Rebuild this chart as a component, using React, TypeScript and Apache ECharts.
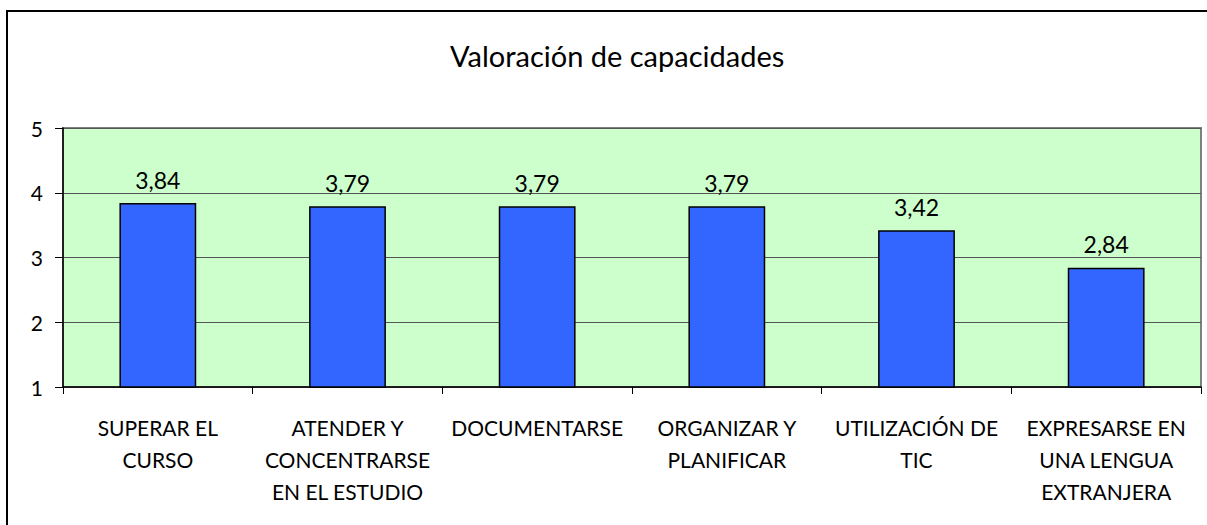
import React, { useEffect, useRef } from "react";
import * as echarts from "echarts";

const titleText = "Valoración de capacidades";
const categories = [
  "SUPERAR EL\nCURSO",
  "ATENDER Y\nCONCENTRARSE\nEN EL ESTUDIO",
  "DOCUMENTARSE",
  "ORGANIZAR Y\nPLANIFICAR",
  "UTILIZACIÓN DE\nTIC",
  "EXPRESARSE EN\nUNA LENGUA\nEXTRANJERA",
];
const values = [3.84, 3.79, 3.79, 3.79, 3.42, 2.84];
const yMin = 1;
const yMax = 5;
const yInterval = 1;

const FONT = "Lato, 'Open Sans', sans-serif";

export default function App() {
  const ref = useRef<HTMLDivElement>(null);
  useEffect(() => {
    if (!ref.current) return;
    const chart = echarts.init(ref.current, null, { renderer: "svg" });
    chart.setOption({
      animation: false,
      backgroundColor: "#ffffff",
      textStyle: { fontFamily: FONT, color: "#000" },
      title: {
        text: titleText,
        left: 445,
        top: 36,
        textStyle: { fontFamily: FONT, fontSize: 29, fontWeight: "normal", color: "#000" },
      },
      graphic: [
        {
          type: "rect",
          shape: { x: 7, y: 11, width: 1400, height: 700 },
          style: { fill: "none", stroke: "#000", lineWidth: 2 },
          z: 100,
        },
      ],
      grid: {
        left: 63,
        top: 128,
        right: 6,
        bottom: 138,
        show: true,
        backgroundColor: "#CCFFCC",
        borderColor: "#808080",
        borderWidth: 2,
      },
      xAxis: {
        type: "category",
        data: categories,
        axisLine: { show: true, lineStyle: { color: "#000", width: 1.5 } },
        axisTick: { show: true, alignWithLabel: false, length: 7, lineStyle: { color: "#000" } },
        axisLabel: {
          interval: 0,
          margin: 24,
          fontSize: 21,
          lineHeight: 32,
          color: "#000",
          fontFamily: FONT,
        },
      },
      yAxis: {
        type: "value",
        min: yMin,
        max: yMax,
        interval: yInterval,
        axisLine: { show: true, lineStyle: { color: "#000", width: 1.5 } },
        axisTick: { show: true, length: 8, lineStyle: { color: "#000" } },
        axisLabel: { fontSize: 21, color: "#000", margin: 20, fontFamily: FONT },
        splitLine: { show: true, lineStyle: { color: "#555", width: 1.2 } },
      },
      series: [
        {
          type: "bar",
          data: values,
          barWidth: "40.5%",
          itemStyle: { color: "#3366FF", borderColor: "#000", borderWidth: 1.5 },
          label: {
            show: true,
            position: "top",
            distance: 12,
            fontSize: 23,
            color: "#000",
            fontFamily: FONT,
            formatter: (p: any) => p.value.toFixed(2).replace(".", ","),
          },
        },
      ],
    });
    return () => chart.dispose();
  }, []);
  return (
    <div
      ref={ref}
      style={{ position: "fixed", left: 0, top: 0, width: 1207, height: 525 }}
    />
  );
}
